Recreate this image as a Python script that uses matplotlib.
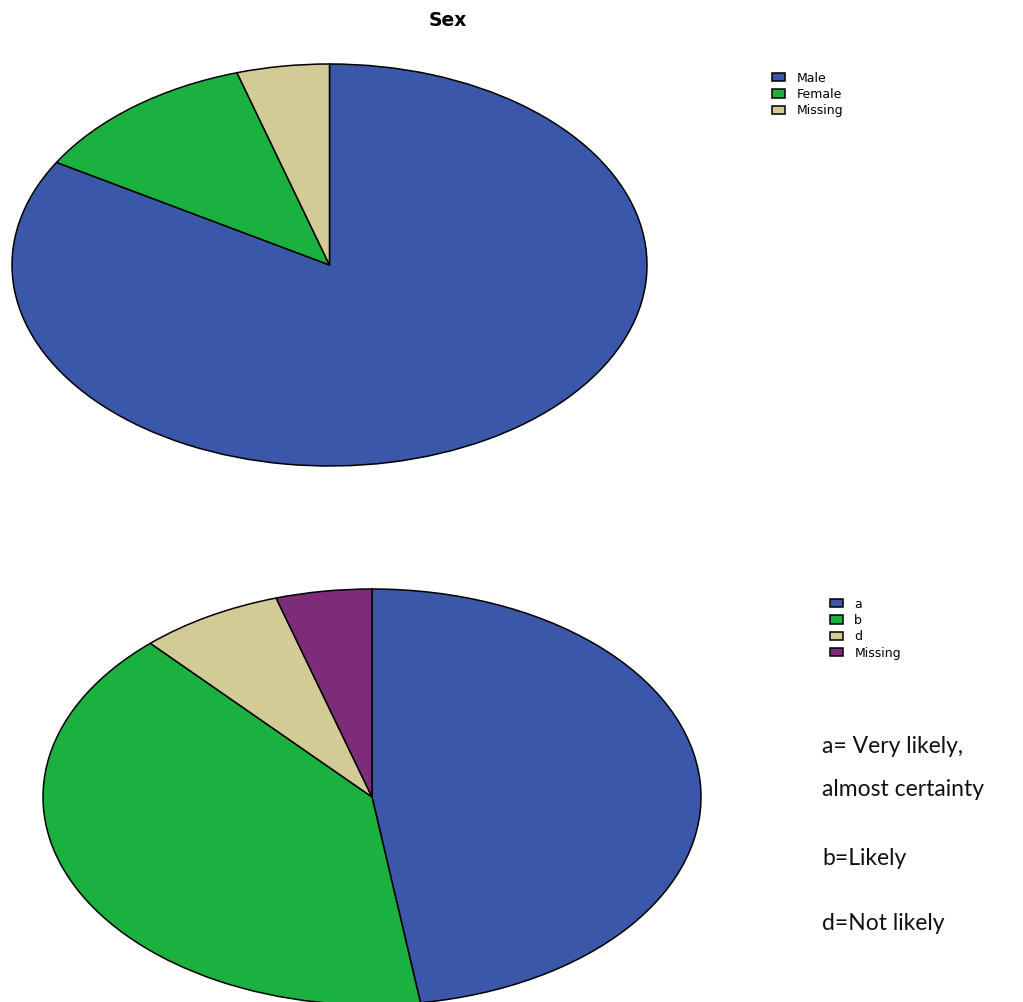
import matplotlib
matplotlib.use("Agg")
import matplotlib.pyplot as plt

# ---- data ----
sex_labels = ["Male", "Female", "Missing"]
sex_counts = [142, 20, 8]
sex_colors = ["#3B57A9", "#1BB13F", "#D3CB96"]

lik_labels = ["a", "b", "d", "Missing"]
lik_counts = [81, 69, 12, 8]
lik_colors = ["#3B57A9", "#1BB13F", "#D3CB96", "#7E2C7A"]

notes = ["a= Very likely,", "almost certainty", "b=Likely", "d=Not likely"]
title = "Sex"

W, H = 1023, 1002
fig = plt.figure(figsize=(W / 100, H / 100), dpi=100)
fig.patch.set_facecolor("white")


def px_axes(x0, y0, x1, y1):
    # pixel box (top-left origin) -> figure fraction axes
    return fig.add_axes([x0 / W, (H - y1) / H, (x1 - x0) / W, (y1 - y0) / H])


def draw_pie(ax, counts, colors):
    wedges, _ = ax.pie(counts, colors=colors, startangle=90, counterclock=False,
                       wedgeprops=dict(edgecolor="black", linewidth=1.1))
    ax.set_aspect("auto")
    ax.set_xlim(-1.0, 1.0)
    ax.set_ylim(-1.0, 1.0)
    ax.axis("off")
    for w in wedges:
        w.set_clip_on(False)
    return wedges


# top pie
ax1 = px_axes(12, 64, 647, 466)
w1 = draw_pie(ax1, sex_counts, sex_colors)

# bottom pie
ax2 = px_axes(43, 589, 701, 1005)
w2 = draw_pie(ax2, lik_counts, lik_colors)

fig.text(448 / W, 1 - 20 / H, title, ha="center", va="center",
         fontsize=13.5, fontweight="bold", family="DejaVu Sans")

leg_kw = dict(frameon=False, handlelength=1.04, handleheight=0.65,
              handletextpad=0.9, labelspacing=0.27, borderpad=0, borderaxespad=0,
              prop=dict(family="DejaVu Sans", size=9))

fig.legend(w1, sex_labels, loc="upper left",
           bbox_to_anchor=(772 / W, 1 - 71.5 / H), **leg_kw)
fig.legend(w2, lik_labels, loc="upper left",
           bbox_to_anchor=(830 / W, 1 - 597.5 / H), **leg_kw)

note_y = [753, 796, 865, 930]
for txt, yy in zip(notes, note_y):
    fig.text(822 / W, 1 - yy / H, txt, ha="left", va="baseline",
             fontsize=16.5, family="Lato", color="#111111")

fig.savefig("out.png", dpi=100, facecolor="white")
